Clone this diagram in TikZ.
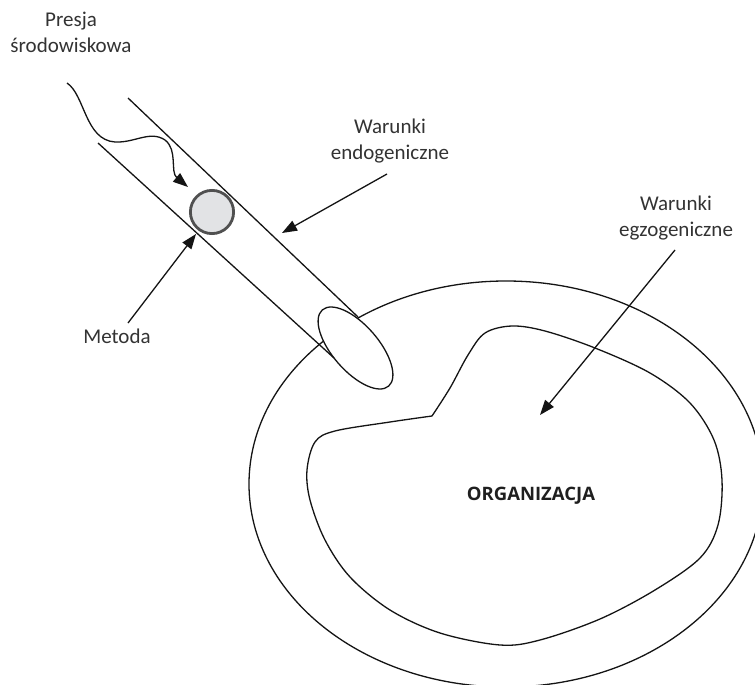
\documentclass[tikz,border=0pt]{standalone}
\usepackage{fontspec}
\setmainfont{Carlito}
\newfontfamily\orgfont{Open Sans}
\usetikzlibrary{arrows.meta}
\definecolor{ballfill}{HTML}{E2E3E5}
\definecolor{ballline}{HTML}{505050}
\definecolor{txt}{HTML}{333333}
\begin{document}
\begin{tikzpicture}[x=1pt,y=-1pt,
  ln/.style={line width=1.3pt, draw=black!92},
  arr/.style={ln, -{Triangle[length=15pt,width=11pt]}},
  lbl/.style={font=\fontsize{21}{26}\selectfont, text=txt, align=center, inner sep=0pt},
]
\useasboundingbox[fill=white] (0,0) rectangle (755,685);

% outer ellipse (exogenous conditions)
\draw[ln] (506,484) ellipse [x radius=257pt, y radius=203pt];

% inner blob (organisation)
\draw[ln] plot[smooth, tension=0.55] coordinates {
  (432,416) (450,388) (468,355) (485,333) (512,326) (545,331) (595,348)
  (650,373) (690,403) (714,440) (722,480) (718,525) (700,558) (655,590)
  (600,619) (540,640) (500,645) (440,633) (390,610) (350,577) (325,540)
  (310,500) (307,470) (315,442) (335,431) (390,422) (432,416)};

% tube end
\draw[ln, fill=white, rotate around={-49:(355.5,348)}] (355.5,348) ellipse [x radius=50.5pt, y radius=23pt];

% tube walls
\coordinate (tA1) at (128,98);
\coordinate (tA2) at (358,317);
\coordinate (tB1) at (98,143);
\coordinate (tB2) at (334,358);
\draw[ln] (tA1) -- (tA2);
\draw[ln] (tB1) -- (tB2);

% method ball
\node[circle, draw=ballline, line width=2.8pt, fill=ballfill, minimum size=43.2pt, inner sep=0pt] (ball) at (212,212) {};

% texts
\node[lbl] (presja) at (71,34.5) {\strut Presja\\\strut środowiskowa};
\node[lbl] (endo) at (390,141) {\strut Warunki\\\strut endogeniczne};
\node[lbl] (egzo) at (676,218.5) {\strut Warunki\\\strut egzogeniczne};
\node[lbl, anchor=base] (met) at (117,343) {Metoda};
\node[font=\orgfont\bfseries\fontsize{18.5}{22}\selectfont, text=black!88, anchor=base, inner sep=0pt] (org) at (531,500.5) {ORGANIZACJA};

% arrows
\coordinate (wS) at (67,83);
\coordinate (wT) at (188,187);
\draw[arr] (wS) .. controls (85,95) and (85,140) .. (115,142)
  .. controls (135,143) and (150,130) .. (165,140)
  .. controls (178,150) and (170,172) .. (wT);

\coordinate (endoS) at (387,174);
\coordinate (endoT) at (282,233);
\draw[arr] (endoS) -- (endoT);

\coordinate (metS) at (128,323);
\coordinate (metT) at (196,234);
\draw[arr] (metS) -- (metT);

\coordinate (egzoS) at (675,250);
\coordinate (egzoT) at (540,415);
\draw[arr] (egzoS) -- (egzoT);
\end{tikzpicture}
\end{document}
